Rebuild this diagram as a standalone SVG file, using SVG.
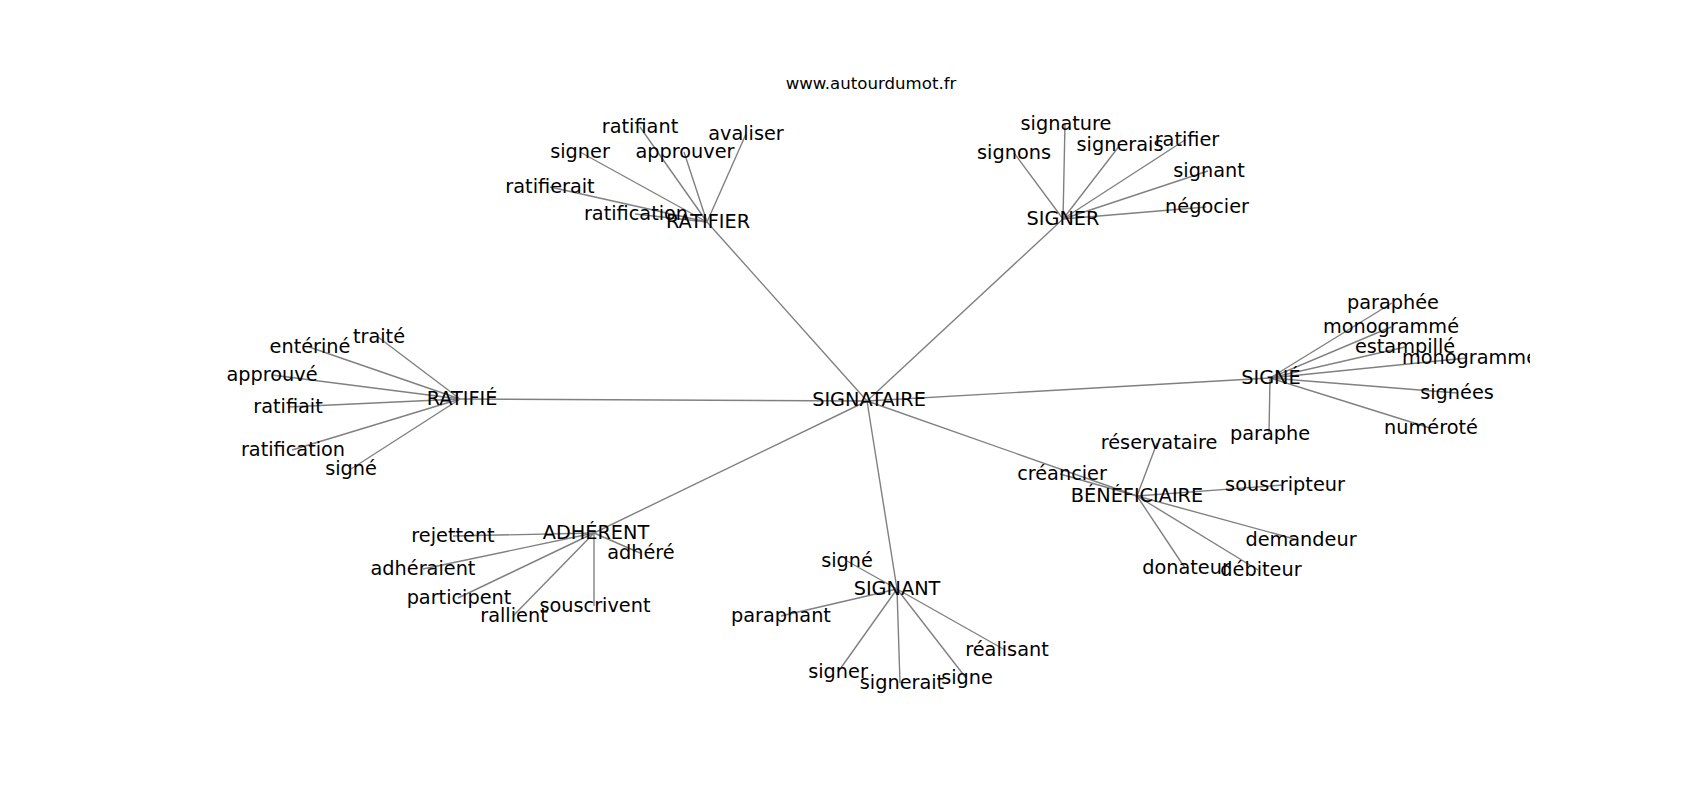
<svg xmlns="http://www.w3.org/2000/svg" width="1700" height="800" viewBox="0 0 1700 800">
<style>
  .e { stroke: #808080; stroke-width: 1.4; fill: none; }
  text { font-family: "DejaVu Sans", "Noto Sans", sans-serif; font-size: 19.3px; text-anchor: middle; fill: #000; }
  .title { font-size: 16.6px; }
</style>
<defs>
  <clipPath id="axes"><rect x="212.5" y="96" width="1317.5" height="616"/></clipPath>
</defs>
<rect width="1700" height="800" fill="#fff"/>
<text class="title" x="871" y="89">www.autourdumot.fr</text>
<g id="connectors">
  <line class="e" x1="867" y1="401" x2="707" y2="222"/>
  <line class="e" x1="867" y1="401" x2="1063" y2="219"/>
  <line class="e" x1="867" y1="401" x2="1270" y2="378"/>
  <line class="e" x1="867" y1="401" x2="460" y2="399"/>
  <line class="e" x1="867" y1="401" x2="1137" y2="496"/>
  <line class="e" x1="867" y1="401" x2="594" y2="533"/>
  <line class="e" x1="867" y1="401" x2="897" y2="589"/>
  <line class="e" x1="707" y1="222" x2="640" y2="127"/>
  <line class="e" x1="707" y1="222" x2="746" y2="134"/>
  <line class="e" x1="707" y1="222" x2="580" y2="152"/>
  <line class="e" x1="707" y1="222" x2="684" y2="152"/>
  <line class="e" x1="707" y1="222" x2="550" y2="187"/>
  <line class="e" x1="707" y1="222" x2="635" y2="214"/>
  <line class="e" x1="1063" y1="219" x2="1065" y2="124"/>
  <line class="e" x1="1063" y1="219" x2="1014" y2="153"/>
  <line class="e" x1="1063" y1="219" x2="1120" y2="145"/>
  <line class="e" x1="1063" y1="219" x2="1185" y2="140"/>
  <line class="e" x1="1063" y1="219" x2="1208" y2="171"/>
  <line class="e" x1="1063" y1="219" x2="1206" y2="207"/>
  <line class="e" x1="1270" y1="378" x2="1392" y2="303"/>
  <line class="e" x1="1270" y1="378" x2="1391" y2="327"/>
  <line class="e" x1="1270" y1="378" x2="1405" y2="347"/>
  <line class="e" x1="1270" y1="378" x2="1467" y2="358"/>
  <line class="e" x1="1270" y1="378" x2="1457" y2="393"/>
  <line class="e" x1="1270" y1="378" x2="1430" y2="428"/>
  <line class="e" x1="1270" y1="378" x2="1269" y2="434"/>
  <line class="e" x1="460" y1="399" x2="378" y2="337"/>
  <line class="e" x1="460" y1="399" x2="309" y2="347"/>
  <line class="e" x1="460" y1="399" x2="272" y2="375"/>
  <line class="e" x1="460" y1="399" x2="288" y2="407"/>
  <line class="e" x1="460" y1="399" x2="292" y2="450"/>
  <line class="e" x1="460" y1="399" x2="351" y2="469"/>
  <line class="e" x1="1137" y1="496" x2="1157" y2="443"/>
  <line class="e" x1="1137" y1="496" x2="1060" y2="474"/>
  <line class="e" x1="1137" y1="496" x2="1283" y2="485"/>
  <line class="e" x1="1137" y1="496" x2="1298" y2="540"/>
  <line class="e" x1="1137" y1="496" x2="1258" y2="570"/>
  <line class="e" x1="1137" y1="496" x2="1185" y2="568"/>
  <line class="e" x1="594" y1="533" x2="453" y2="536"/>
  <line class="e" x1="594" y1="533" x2="423" y2="569"/>
  <line class="e" x1="594" y1="533" x2="640" y2="553"/>
  <line class="e" x1="594" y1="533" x2="458" y2="598"/>
  <line class="e" x1="594" y1="533" x2="513" y2="616"/>
  <line class="e" x1="594" y1="533" x2="594" y2="606"/>
  <line class="e" x1="897" y1="589" x2="847" y2="561"/>
  <line class="e" x1="897" y1="589" x2="781" y2="616"/>
  <line class="e" x1="897" y1="589" x2="1005" y2="650"/>
  <line class="e" x1="897" y1="589" x2="838" y2="672"/>
  <line class="e" x1="897" y1="589" x2="900" y2="683"/>
  <line class="e" x1="897" y1="589" x2="966" y2="678"/>
</g>
<g id="nodes" clip-path="url(#axes)">
  <g id="n-signataire"><text x="869" y="406">SIGNATAIRE</text></g>
  <g id="n-ratifier"><text x="708" y="228">RATIFIER</text></g>
  <g id="n-ratifier-ratifiant"><text x="640" y="133">ratifiant</text></g>
  <g id="n-ratifier-avaliser"><text x="746" y="140">avaliser</text></g>
  <g id="n-ratifier-signer"><text x="580" y="158">signer</text></g>
  <g id="n-ratifier-approuver"><text x="685" y="158">approuver</text></g>
  <g id="n-ratifier-ratifierait"><text x="550" y="193">ratifierait</text></g>
  <g id="n-ratifier-ratification"><text x="636" y="220">ratification</text></g>
  <g id="n-signer"><text x="1063" y="225">SIGNER</text></g>
  <g id="n-signer-signature"><text x="1066" y="130">signature</text></g>
  <g id="n-signer-signons"><text x="1014" y="159">signons</text></g>
  <g id="n-signer-signerais"><text x="1120" y="151">signerais</text></g>
  <g id="n-signer-ratifier"><text x="1187" y="146">ratifier</text></g>
  <g id="n-signer-signant"><text x="1209" y="177">signant</text></g>
  <g id="n-signer-negocier"><text x="1207" y="213">négocier</text></g>
  <g id="n-signe"><text x="1271" y="384">SIGNÉ</text></g>
  <g id="n-signe-paraphee"><text x="1393" y="309">paraphée</text></g>
  <g id="n-signe-monogramme1"><text x="1391" y="333">monogrammé</text></g>
  <g id="n-signe-estampille"><text x="1405" y="353">estampillé</text></g>
  <g id="n-signe-monogramme2"><text x="1470" y="364">monogramme</text></g>
  <g id="n-signe-signees"><text x="1457" y="399">signées</text></g>
  <g id="n-signe-numerote"><text x="1431" y="434">numéroté</text></g>
  <g id="n-signe-paraphe"><text x="1270" y="440">paraphe</text></g>
  <g id="n-ratifie"><text x="462" y="405">RATIFIÉ</text></g>
  <g id="n-ratifie-traite"><text x="379" y="343">traité</text></g>
  <g id="n-ratifie-enterine"><text x="310" y="353">entériné</text></g>
  <g id="n-ratifie-approuve"><text x="272" y="381">approuvé</text></g>
  <g id="n-ratifie-ratifiait"><text x="288" y="413">ratifiait</text></g>
  <g id="n-ratifie-ratification"><text x="293" y="456">ratification</text></g>
  <g id="n-ratifie-signe"><text x="351" y="475">signé</text></g>
  <g id="n-beneficiaire"><text x="1137" y="502">BÉNÉFICIAIRE</text></g>
  <g id="n-benef-reservataire"><text x="1159" y="449">réservataire</text></g>
  <g id="n-benef-creancier"><text x="1062" y="480">créancier</text></g>
  <g id="n-benef-souscripteur"><text x="1285" y="491">souscripteur</text></g>
  <g id="n-benef-demandeur"><text x="1301" y="546">demandeur</text></g>
  <g id="n-benef-debiteur"><text x="1261" y="576">débiteur</text></g>
  <g id="n-benef-donateur"><text x="1186" y="574">donateur</text></g>
  <g id="n-adherent"><text x="596" y="539">ADHÉRENT</text></g>
  <g id="n-adh-rejettent"><text x="453" y="542">rejettent</text></g>
  <g id="n-adh-adheraient"><text x="423" y="575">adhéraient</text></g>
  <g id="n-adh-adhere"><text x="641" y="559">adhéré</text></g>
  <g id="n-adh-participent"><text x="459" y="604">participent</text></g>
  <g id="n-adh-rallient"><text x="514" y="622">rallient</text></g>
  <g id="n-adh-souscrivent"><text x="595" y="612">souscrivent</text></g>
  <g id="n-signant"><text x="897" y="595">SIGNANT</text></g>
  <g id="n-signant-signe"><text x="847" y="567">signé</text></g>
  <g id="n-signant-paraphant"><text x="781" y="622">paraphant</text></g>
  <g id="n-signant-realisant"><text x="1007" y="656">réalisant</text></g>
  <g id="n-signant-signer"><text x="838" y="678">signer</text></g>
  <g id="n-signant-signerait"><text x="902" y="689">signerait</text></g>
  <g id="n-signant-signe2"><text x="967" y="684">signe</text></g>
</g>
</svg>
